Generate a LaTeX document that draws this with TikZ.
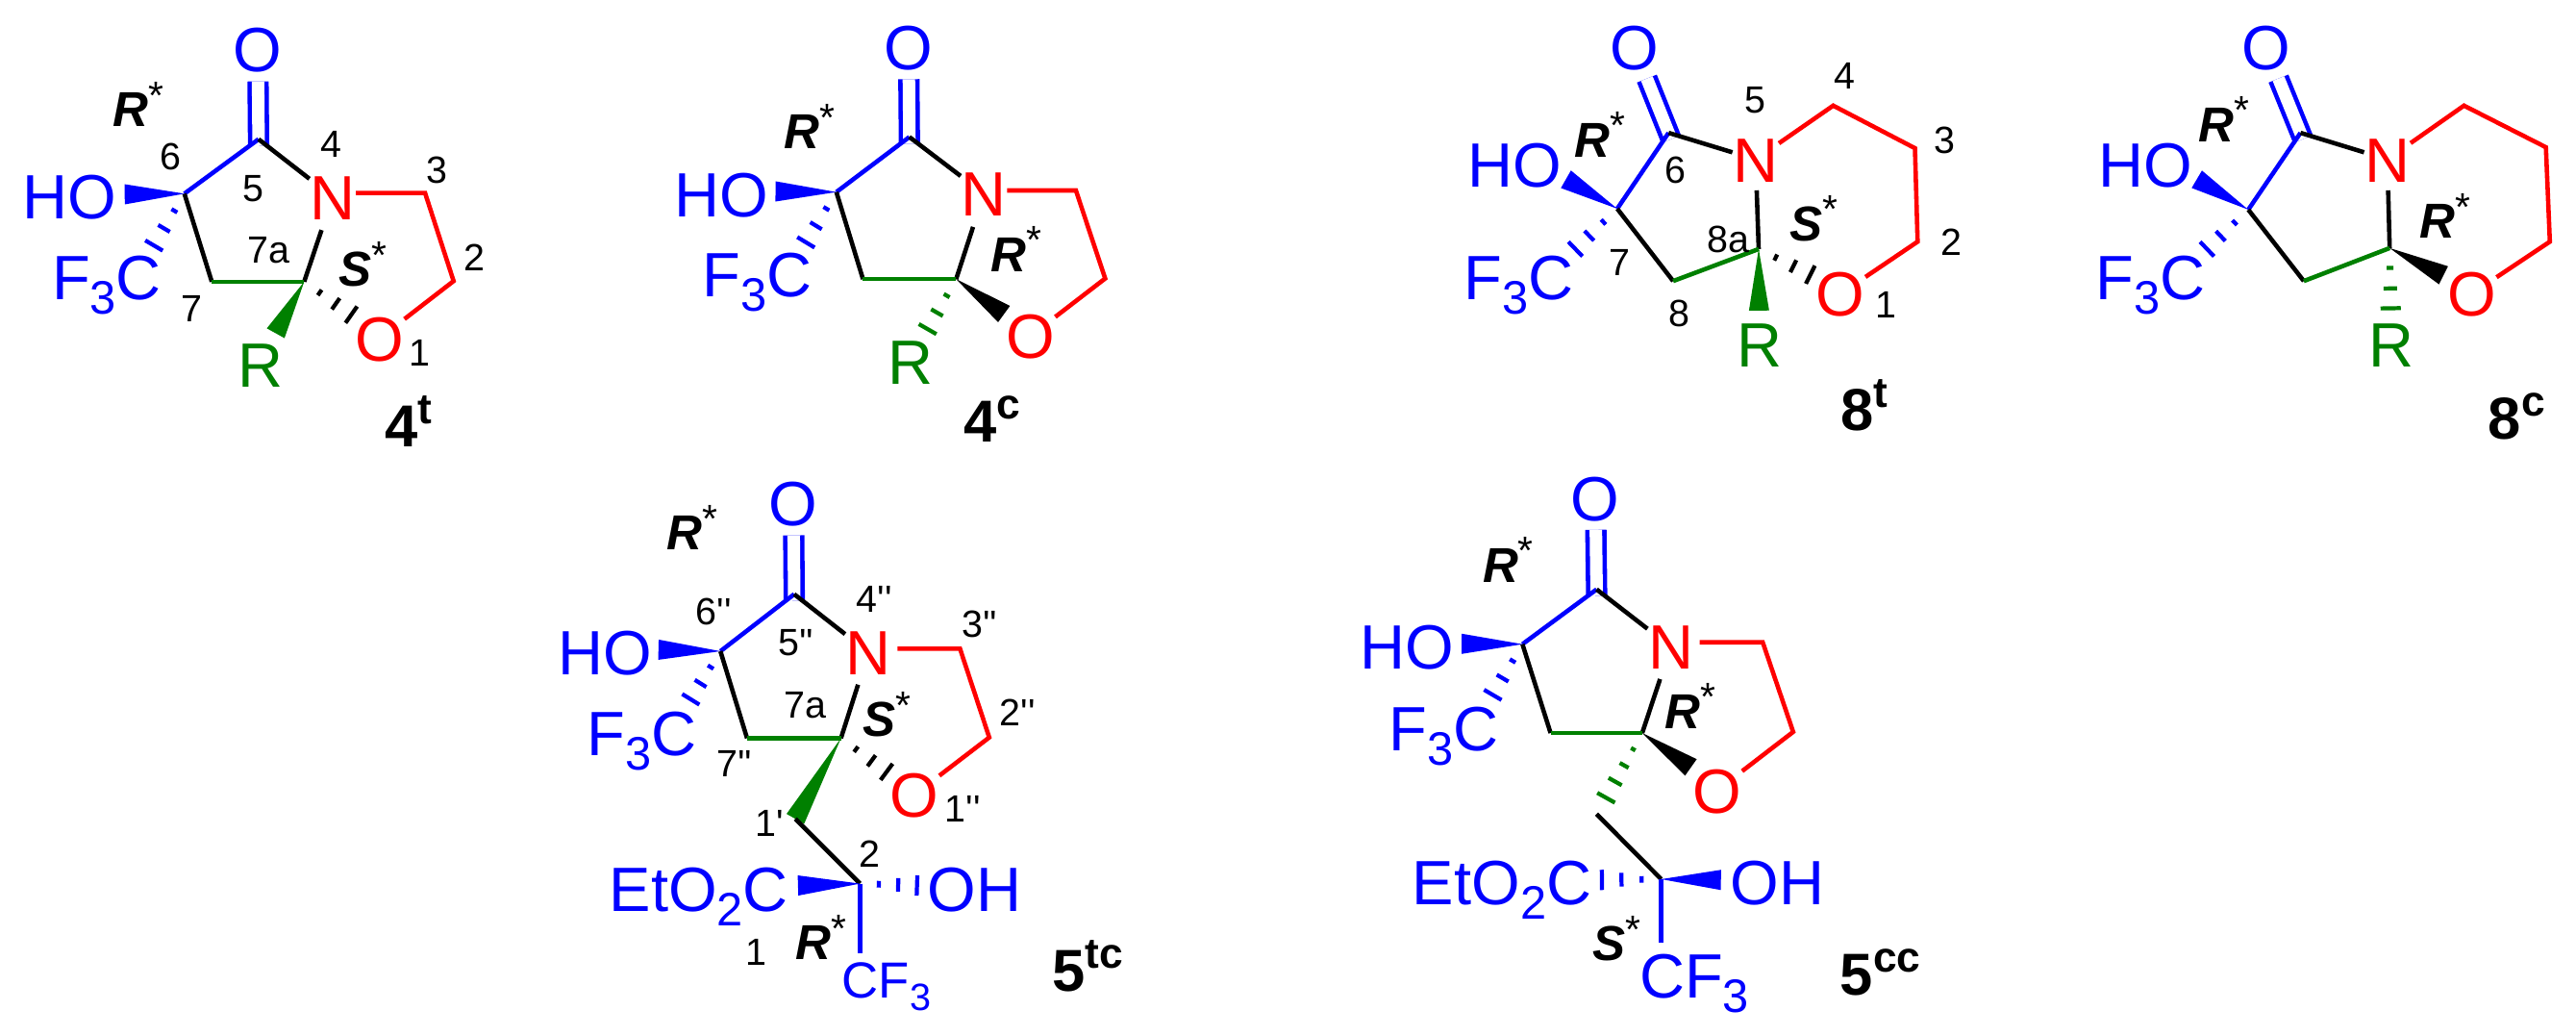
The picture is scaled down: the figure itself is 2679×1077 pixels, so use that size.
\documentclass[tikz,border=0pt]{standalone}
\usepackage{fontspec}
\usepackage{graphicx}
\setmainfont{Liberation Sans}
\newfontfamily\numfont{Liberation Sans}
\usetikzlibrary{calc, positioning}
\definecolor{molgreen}{RGB}{0,128,0}
\tikzset{mol/.style = {x=0.003954cm, y=-0.003333cm}}
\tikzset{molb/.style = {x=0.003954cm, y=-0.003846cm}}
\tikzset{bond/.style = {line width=1.3pt, line cap=butt, line join=miter}}
\tikzset{dbl/.style = {
	bond, double=white, double distance=3.7pt,
	shorten >=0.09cm, shorten <=-0.07cm
	}}
\tikzset{hash/.style = {line width=1.2pt}}
\tikzset{atom/.style = {
	font=\fontsize{18.5}{20}\selectfont,
	inner sep=0pt, text height=13.3pt, text depth=0pt
	}}
\tikzset{atomxs/.style = {
	font=\fontsize{15}{17}\selectfont,
	inner sep=0pt, text height=10.9pt, text depth=0pt
	}}
\tikzset{grp/.style = {anchor=base west}}
\tikzset{num/.style = {
	font=\fontsize{11.2}{12}\selectfont\numfont,
	inner sep=0pt, text height=8pt, text depth=0pt
	}}
\tikzset{stereo/.style = {font=\fontsize{14.5}{16}\selectfont, inner sep=0pt, anchor=base west}}
\tikzset{cmpd/.style = {font=\fontsize{17.5}{19}\selectfont\bfseries, inner sep=0pt, anchor=base west}}
\pgfmathsetmacro{\WedgeW}{0.105}
\newcommand{\lowidx}[1]{\raisebox{-0.23em}{\scalebox{0.75}{#1}}}
\newcommand{\cfgstar}[1]{{\bfseries\itshape #1}\raisebox{0.36em}{\scalebox{0.8}{*}}}
\newcommand{\cmpdlabel}[2]{#1\raisebox{0.39em}{\scalebox{0.72}{#2}}}
\newcommand{\wedgebond}[3]{
	\fill[#1] (#2) -- ($(#3)!\WedgeW cm!90:(#2)$) -- ($(#3)!\WedgeW cm!-90:(#2)$) -- cycle;
}
\newcommand{\hashbond}[4][0.33,0.67,1]{
	\coordinate (hashL) at ($(#4)!\WedgeW cm!90:(#3)$);
	\coordinate (hashR) at ($(#4)!\WedgeW cm!-90:(#3)$);
	\foreach \f in {#1}
	{	\draw[hash, #2] ($(#3)!\f!(hashL)$) -- ($(#3)!\f!(hashR)$);
	}
}

\begin{document}
\begin{tikzpicture}[x=0.01cm, y=-0.01cm]
\useasboundingbox (0,0) rectangle (2679,1077);

	% 4t
	\begin{scope}[shift={(0,0)}, mol, name prefix=fourT-]
	\coordinate (Cco) at (680,435);
	\coordinate (C6) at (485,605);
	\coordinate (C7) at (557,880);
	\coordinate (C7a) at (800,880);
	\coordinate (C3) at (1118,603);
	\coordinate (C2) at (1193,878);
	\coordinate (wHO) at (328,607);
	\coordinate (hF) at (405,767);
	\coordinate (wR) at (725,1041);
	\coordinate (hO) at (924,983);
	\node (O) [atom, blue] at (678,155) {O};
	\node (N) [atom, red] at (875,615) {N};
	\node (Or) [atom, red] at (998,1057) {O};
	\node (R) [atom, molgreen] at (685,1140) {R};
	\node (HOa) [atom, grp, blue] at (58,685) {HO};
	\node (FC) [atom, grp, blue] at (135,935) {F\lowidx{3}C};
	\draw [dbl, blue] (Cco) -- (O);
	\draw [bond, blue] (C6) -- (Cco);
	\draw [bond] (Cco) -- (N);
	\draw [bond, red] (N.east |- C3) -- (C3) -- (C2) -- (Or);
	\draw [bond, shorten >=0.11cm] (C7a) -- (N);
	\draw [bond] (C6) -- (C7);
	\draw [bond, molgreen] (C7) -- (C7a);
	\wedgebond{blue}{C6}{wHO}
	\hashbond{blue}{C6}{hF}
	\wedgebond{molgreen}{C7a}{wR}
	\hashbond{black}{C7a}{hO}
	\node (rs6) [stereo] at (295,395) {\cfgstar{R}};
	\node (ss7) [stereo] at (890,895) {\cfgstar{S}};
	\node (n1) [num] at (1105,1100) {1};
	\node (n2) [num] at (1248,803) {2};
	\node (n3) [num] at (1150,530) {3};
	\node (n4) [num] at (872,450) {4};
	\node (n5) [num] at (667,587) {5};
	\node (n6) [num] at (450,488) {6};
	\node (n7) [num] at (505,962) {7};
	\node (n7a) [num] at (707,780) {7a};
	\node (lab) [cmpd] at (1010,1395) {\cmpdlabel{4}{t}};
	\end{scope}

	% 4c
	\begin{scope}[shift={(680,0)}, mol, name prefix=fourC-]
	\coordinate (Cco) at (672,428);
	\coordinate (C6) at (480,600);
	\coordinate (C7) at (550,872);
	\coordinate (C7a) at (795,872);
	\coordinate (C3) at (1110,595);
	\coordinate (C2) at (1187,870);
	\coordinate (wHO) at (320,598);
	\coordinate (hF) at (400,757);
	\coordinate (wO) at (921,981);
	\coordinate (hR) at (720,1028);
	\node (O) [atom, blue] at (670,148) {O};
	\node (N) [atom, red] at (868,605) {N};
	\node (Or) [atom, red] at (990,1050) {O};
	\node (R) [atom, molgreen] at (675,1130) {R};
	\node (HOa) [atom, grp, blue] at (52,677) {HO};
	\node (FC) [atom, grp, blue] at (127,928) {F\lowidx{3}C};
	\draw [dbl, blue] (Cco) -- (O);
	\draw [bond, blue] (C6) -- (Cco);
	\draw [bond] (Cco) -- (N);
	\draw [bond, red] (N.east |- C3) -- (C3) -- (C2) -- (Or);
	\draw [bond, shorten >=0.11cm] (C7a) -- (N);
	\draw [bond] (C6) -- (C7);
	\draw [bond, molgreen] (C7) -- (C7a);
	\wedgebond{blue}{C6}{wHO}
	\hashbond{blue}{C6}{hF}
	\wedgebond{black}{C7a}{wO}
	\hashbond{molgreen}{C7a}{hR}
	\node (rs6) [stereo] at (342,465) {\cfgstar{R}};
	\node (rs7) [stereo] at (884,848) {\cfgstar{R}};
	\node (lab) [cmpd] at (813,1382) {\cmpdlabel{4}{c}};
	\end{scope}

	% 8t
	\begin{scope}[shift={(1500,0)}, mol, name prefix=eightT-]
	\coordinate (Cco) at (595,415);
	\coordinate (C7) at (460,652);
	\coordinate (C8) at (607,878);
	\coordinate (C8a) at (832,778);
	\coordinate (C4) at (1028,330);
	\coordinate (C3) at (1243,463);
	\coordinate (C2) at (1250,755);
	\coordinate (wHO) at (325,560);
	\coordinate (hF) at (350,778);
	\coordinate (wR) at (833,970);
	\coordinate (hO) at (968,858);
	\node (O) [atom, blue] at (505,148) {O};
	\node (N) [atom, red] at (824,498) {N};
	\node (Or) [atom, red] at (1047,918) {O};
	\node (R) [atom, molgreen] at (835,1075) {R};
	\node (HOa) [atom, grp, blue] at (65,585) {HO};
	\node (FC) [atom, grp, blue] at (55,935) {F\lowidx{3}C};
	\draw [dbl, blue] (Cco) -- (O);
	\draw [bond, blue] (C7) -- (Cco);
	\draw [bond] (Cco) -- (N);
	\draw [bond, red] (N) -- (C4) -- (C3) -- (C2) -- (Or);
	\draw [bond, shorten >=0.08cm] (C8a) -- (N);
	\draw [bond] (C7) -- (C8);
	\draw [bond, molgreen] (C8) -- (C8a);
	\wedgebond{blue}{C7}{wHO}
	\hashbond{blue}{C7}{hF}
	\wedgebond{molgreen}{C8a}{wR}
	\hashbond{black}{C8a}{hO}
	\node (rs7) [stereo] at (347,490) {\cfgstar{R}};
	\node (ss8) [stereo] at (912,752) {\cfgstar{S}};
	\node (n1) [num] at (1168,952) {1};
	\node (n2) [num] at (1340,755) {2};
	\node (n3) [num] at (1320,438) {3};
	\node (n4) [num] at (1057,237) {4};
	\node (n5) [num] at (823,312) {5};
	\node (n6) [num] at (613,530) {6};
	\node (n7) [num] at (467,818) {7};
	\node (n8) [num] at (622,978) {8};
	\node (n8a) [num] at (752,748) {8a};
	\node (lab) [cmpd] at (1047,1345) {\cmpdlabel{8}{t}};
	\end{scope}

	% 8c
	\begin{scope}[shift={(2140,0)}, mol, x=0.003438cm, name prefix=eightC-]
	\coordinate (Cco) at (735,415);
	\coordinate (C7) at (577,655);
	\coordinate (C8) at (745,878);
	\coordinate (C8a) at (1005,775);
	\coordinate (C4) at (1230,330);
	\coordinate (C3) at (1478,460);
	\coordinate (C2) at (1490,755);
	\coordinate (wHO) at (421,560);
	\coordinate (hF) at (452,778);
	\coordinate (wO) at (1168,860);
	\coordinate (hR) at (1008,963);
	\node (O) [atom, blue] at (630,148) {O};
	\node (N) [atom, red] at (998,498) {N};
	\node (Or) [atom, red] at (1253,918) {O};
	\node (R) [atom, molgreen] at (1010,1075) {R};
	\node (HOa) [atom, grp, blue] at (122,585) {HO};
	\node (FC) [atom, grp, blue] at (114,935) {F\lowidx{3}C};
	\draw [dbl, blue] (Cco) -- (O);
	\draw [bond, blue] (C7) -- (Cco);
	\draw [bond] (Cco) -- (N);
	\draw [bond, red] (N) -- (C4) -- (C3) -- (C2) -- (Or);
	\draw [bond, shorten >=0.08cm] (C8a) -- (N);
	\draw [bond] (C7) -- (C8);
	\draw [bond, molgreen] (C8) -- (C8a);
	\wedgebond{blue}{C7}{wHO}
	\hashbond{blue}{C7}{hF}
	\wedgebond{black}{C8a}{wO}
	\hashbond{molgreen}{C8a}{hR}
	\node (rs7) [stereo] at (425,442) {\cfgstar{R}};
	\node (rs8) [stereo] at (1095,745) {\cfgstar{R}};
	\node (lab) [cmpd] at (1302,1372) {\cmpdlabel{8}{c}};
	\end{scope}

	% 5tc
	\begin{scope}[shift={(580,480)}, molb, name prefix=fiveTC-]
	\coordinate (Cco) at (622,358);
	\coordinate (C6) at (428,512);
	\coordinate (C7) at (498,747);
	\coordinate (C7a) at (745,747);
	\coordinate (C3) at (1058,505);
	\coordinate (C2) at (1135,745);
	\coordinate (Cm) at (625,965);
	\coordinate (Cq) at (795,1140);
	\coordinate (wHO) at (265,508);
	\coordinate (hF) at (350,642);
	\coordinate (hO) at (865,838);
	\coordinate (wE) at (632,1145);
	\coordinate (hOH) at (945,1145);
	\node (O) [atom, blue] at (620,113) {O};
	\node (N) [atom, red] at (817,515) {N};
	\node (Or) [atom, red] at (938,900) {O};
	\node (HOa) [atom, grp, blue] at (-1,577) {HO};
	\node (FC) [atom, grp, blue] at (76,795) {F\lowidx{3}C};
	\node (Est) [atom, grp, blue] at (134,1215) {EtO\lowidx{2}C};
	\node (OHb) [atom, grp, blue] at (971,1215) {OH};
	\node (CF) [atomxs, grp, blue] at (746,1450) {CF\lowidx{3}};
	\draw [dbl, blue] (Cco) -- (O);
	\draw [bond, blue] (C6) -- (Cco);
	\draw [bond] (Cco) -- (N);
	\draw [bond, red, shorten <=0.06cm] (N.east |- C3) -- (C3) -- (C2) -- (Or);
	\draw [bond, shorten >=0.1cm] (C7a) -- (N);
	\draw [bond] (C6) -- (C7);
	\draw [bond, molgreen] (C7) -- (C7a);
	\wedgebond{blue}{C6}{wHO}
	\hashbond{blue}{C6}{hF}
	\wedgebond{molgreen}{C7a}{Cm}
	\hashbond{black}{C7a}{hO}
	\draw [bond] (Cm) -- (Cq);
	\wedgebond{blue}{Cq}{wE}
	\hashbond{blue}{Cq}{hOH}
	\draw [bond, blue, shorten >=0.08cm] (Cq) -- (Cq |- CF.north);
	\node (rs6) [stereo] at (285,238) {\cfgstar{R}};
	\node (ss7) [stereo] at (800,742) {\cfgstar{S}};
	\node (rs2) [stereo] at (625,1345) {\cfgstar{R}};
	\node (n1pp) [num] at (1065,937) {1''};
	\node (n2pp) [num] at (1210,677) {2''};
	\node (n3pp) [num] at (1110,438) {3''};
	\node (n4pp) [num] at (833,370) {4''};
	\node (n5pp) [num] at (627,487) {5''};
	\node (n6pp) [num] at (410,403) {6''};
	\node (n7pp) [num] at (465,815) {7''};
	\node (n7a) [num] at (650,657) {7a};
	\node (n1p) [num] at (558,977) {1'};
	\node (n2) [num] at (820,1060) {2};
	\node (n1) [num] at (522,1325) {1};
	\node (lab) [cmpd] at (1300,1432) {\cmpdlabel{5}{tc}};
	\end{scope}

	% 5cc
	\begin{scope}[shift={(1420,480)}, molb, name prefix=fiveCC-]
	\coordinate (Cco) at (608,345);
	\coordinate (C6) at (413,493);
	\coordinate (C7) at (487,733);
	\coordinate (C7a) at (728,733);
	\coordinate (C3) at (1045,488);
	\coordinate (C2) at (1125,730);
	\coordinate (Cm) at (608,952);
	\coordinate (Cq) at (778,1128);
	\coordinate (wHO) at (253,492);
	\coordinate (hF) at (335,630);
	\coordinate (wO) at (856,826);
	\coordinate (hC) at (633,908);
	\coordinate (hE) at (622,1130);
	\coordinate (wOH) at (935,1130);
	\node (O) [atom, blue] at (605,98) {O};
	\node (N) [atom, red] at (803,500) {N};
	\node (Or) [atom, red] at (925,888) {O};
	\node (HOa) [atom, grp, blue] at (-16,560) {HO};
	\node (FC) [atom, grp, blue] at (61,780) {F\lowidx{3}C};
	\node (Est) [atom, grp, blue] at (122,1198) {EtO\lowidx{2}C};
	\node (OHb) [atom, grp, blue] at (958,1198) {OH};
	\node (CF) [atom, grp, blue] at (719,1450) {CF\lowidx{3}};
	\draw [dbl, blue] (Cco) -- (O);
	\draw [bond, blue] (C6) -- (Cco);
	\draw [bond] (Cco) -- (N);
	\draw [bond, red, shorten <=0.06cm] (N.east |- C3) -- (C3) -- (C2) -- (Or);
	\draw [bond, shorten >=0.1cm] (C7a) -- (N);
	\draw [bond] (C6) -- (C7);
	\draw [bond, molgreen] (C7) -- (C7a);
	\wedgebond{blue}{C6}{wHO}
	\hashbond{blue}{C6}{hF}
	\wedgebond{black}{C7a}{wO}
	\hashbond[0.25,0.5,0.75,1]{molgreen}{C7a}{hC}
	\draw [bond] (Cm) -- (Cq);
	\wedgebond{blue}{Cq}{wOH}
	\hashbond{blue}{Cq}{hE}
	\draw [bond, blue, shorten >=0.1cm] (Cq) -- (Cq |- CF.north);
	\node (rs6) [stereo] at (307,325) {\cfgstar{R}};
	\node (rs7) [stereo] at (787,720) {\cfgstar{R}};
	\node (ss2) [stereo] at (596,1348) {\cfgstar{S}};
	\node (lab) [cmpd] at (1247,1440) {\cmpdlabel{5}{cc}};
	\end{scope}

\end{tikzpicture}
\end{document}
